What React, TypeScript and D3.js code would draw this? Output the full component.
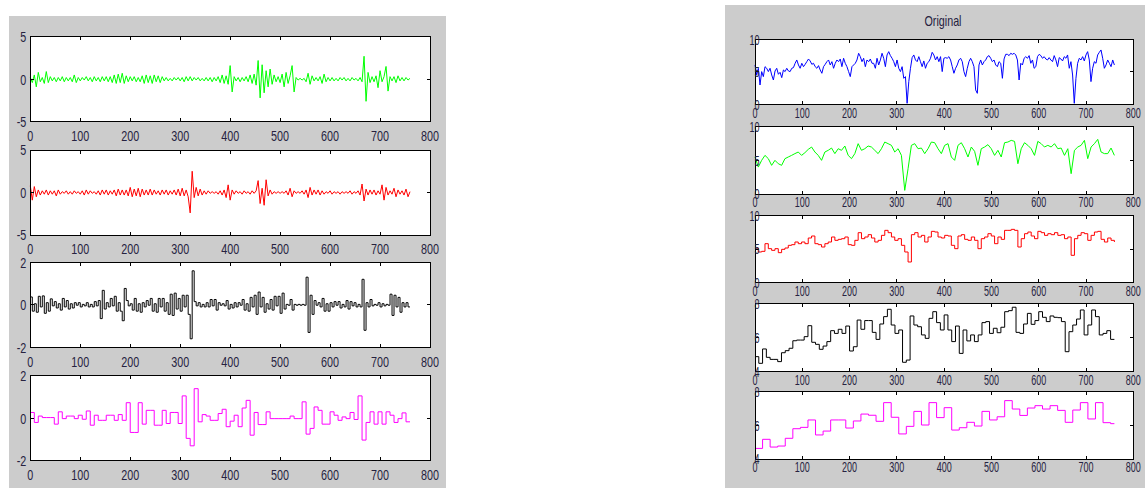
import React from 'react';
import * as d3 from 'd3';

// number of samples in every signal
const SAMPLES = 760;

const xTicks = [0, 100, 200, 300, 400, 500, 600, 700, 800];

// ---- left figure: detail signals ----
const detail1 = [
  0.2, -0.4, 0.5, -0.9, 0.8, -0.3, 0.2, -0.5, 0.9, -0.4,
  0.3, -0.2, 0.2, -0.3, 0.2, -0.2, 0.3, -0.3, 0.2, -0.2,
  0.2, -0.3, 0.5, -0.4, 0.2, -0.2, 0.2, -0.1, 0.3, -0.2,
  0.2, -0.3, 0.3, -0.2, 0.2, -0.3, 0.3, -0.2, 0.3, -0.3,
  0.3, -0.4, 0.5, -0.5, 0.6, -0.4, 0.7, -0.5, 0.4, -0.3,
  0.3, -0.2, 0.3, -0.3, 0.2, -0.3, 0.4, -0.5, 0.5, -0.4,
  0.4, -0.5, 0.5, -0.3, 0.4, -0.4, 0.3, -0.2, 0.2, -0.2,
  0.1, -0.2, 0.2, -0.1, 0.2, -0.2, 0.2, -0.3, 0.3, -0.2,
  0.3, -0.2, 0.2, -0.1, 0.2, -0.2, 0.1, -0.2, 0.2, -0.2,
  0.2, -0.3, 0.2, -0.2, 0.3, -0.4, 0.5, -0.5, 0.4, -0.6,
  1.6, -1.5, 0.3, -0.2, 0.2, -0.3, 0.2, -0.2, 0.3, -0.3,
  0.5, -0.5, 0.6, -0.7, 2.2, -2.2, 1.7, -1.6, 1.0, -0.9,
  1.2, -0.6, 0.5, -0.3, 0.3, -0.4, 0.6, -0.9, 0.8, -0.5,
  0.4, 1.6, -1.5, 0.2, -0.1, 0.1, -0.1, 0.1, -0.3, 0.7,
  -0.6, 0.4, -0.2, 0.2, -0.2, 0.3, -0.5, 0.6, -0.3, 0.2,
  -0.2, 0.2, -0.2, 0.1, -0.2, 0.2, -0.1, 0.2, -0.2, 0.1,
  -0.2, 0.2, -0.1, 0.1, -0.2, 0.2, -0.3, 2.7, -2.6, 0.8,
  -0.4, 0.3, -0.3, 0.4, -1.0, 1.0, -0.3, 0.3, 1.5, -1.4,
  0.3, -0.2, 0.3, -0.4, 0.4, -0.2, 0.2, -0.2, 0.2, -0.1,
  0.1,
];

const detail2 = [
  0.8, -0.9, 0.7, -0.5, 0.3, -0.3, 0.2, -0.2, 0.3, -0.3,
  0.2, -0.2, 0.2, -0.4, 0.3, -0.2, 0.1, -0.1, 0.2, -0.2,
  0.1, -0.2, 0.2, -0.1, 0.1, -0.2, 0.2, -0.3, 0.3, -0.2,
  0.2, -0.1, 0.1, -0.2, 0.2, -0.3, 0.3, -0.2, 0.3, -0.3,
  0.2, -0.2, 0.3, -0.4, 0.4, -0.3, 0.3, -0.3, 0.3, -0.4,
  0.6, -0.5, 0.4, -0.4, 0.5, -0.5, 0.4, -0.3, 0.3, -0.3,
  0.4, -0.3, 0.3, -0.2, 0.2, -0.3, 0.3, -0.2, 0.3, -0.3,
  0.2, -0.2, 0.3, -0.3, 0.4, -0.4, 0.5, -0.4, 0.3, -0.5,
  -2.4, 2.5, -0.6, 0.6, -0.4, 0.4, -0.3, 0.2, -0.2, 0.2,
  -0.1, 0.1, -0.1, 0.1, -0.2, 0.2, -0.3, 0.3, -0.6, 0.9,
  -0.9, 0.3, -0.2, 0.2, -0.1, 0.1, -0.2, 0.2, -0.1, 0.1,
  -0.2, 0.2, -0.1, 0.2, 1.4, -1.3, 0.5, -1.5, 1.5, -0.4,
  0.3, -0.2, 0.1, -0.1, 0.1, -0.1, 0.1, -0.1, 0.2, -0.3,
  0.5, -0.5, 0.2, -0.1, 0.1, -0.1, 0.2, -0.2, 0.3, -0.6,
  0.6, -0.3, 0.3, -0.2, 0.3, -0.3, 0.2, -0.2, 0.1, -0.1,
  0.2, -0.2, 0.1, -0.1, 0.1, -0.2, 0.1, -0.1, 0.1, -0.1,
  0.2, -0.2, 0.1, -0.1, 0.2, -0.3, 1.0, -1.0, 0.4, -0.3,
  0.3, -0.2, 0.3, -0.3, 0.2, -0.2, 0.9, -0.9, 0.6, -0.3,
  0.2, -0.2, 0.5, -0.5, 0.3, -0.2, 0.2, -0.3, 0.4, -0.5,
  0.1,
];

// held for 4 samples each
const detail3 = [
  0.37, -0.3, 0.05, -0.35, 0.4, -0.1, 0.42, -0.4, 0.1, -0.3,
  0.28, -0.05, 0.15, -0.15, 0.05, -0.25, 0.3, -0.1, 0.2, -0.2,
  0.05, -0.15, 0.1, -0.02, 0.1, -0.1, 0.02, -0.05, 0.1, -0.1,
  0.02, -0.1, 0.15, -0.05, 0.2, -0.65, 0.68, -0.2, 0.1, -0.1,
  0.3, -0.05, 0.4, -0.3, 0.1, -0.3, -0.75, 0.77, 0.2, -0.05,
  0.05, -0.25, 0.3, -0.3, 0.05, -0.35, 0.1, -0.1, 0.2, -0.02,
  0.3, -0.3, 0.05, -0.35, 0.3, -0.1, 0.3, -0.3, 0.1, -0.45,
  0.5, -0.5, 0.55, -0.2, 0.3, -0.3, 0.45, -0.1, 0.45, -0.45,
  -1.6, 1.6, 0.15, -0.05, 0.1, -0.1, 0.02, -0.1, 0.1, -0.1,
  0.25, -0.05, 0.25, -0.25, 0.1, -0.02, 0.05, -0.05, 0.2, -0.2,
  0.02, -0.15, 0.1, -0.1, 0.1, -0.02, 0.25, -0.25, 0.05, -0.3,
  0.35, -0.1, 0.45, -0.45, 0.6, -0.1, 0.35, -0.35, 0.05, -0.2,
  0.25, -0.25, 0.4, -0.05, 0.4, -0.4, 0.55, -0.2, 0.02, -0.02,
  0.25, -0.25, 0.02, -0.02, 0.02, -0.02, 0.02, -0.02, 1.3, -1.3,
  0.45, -0.45, 0.2, -0.02, 0.1, -0.1, 0.3, -0.3, 0.05, -0.3,
  0.1, -0.1, 0.15, -0.02, 0.15, -0.15, 0.02, -0.1, 0.2, -0.2,
  0.15, -0.05, 0.1, -0.1, 0.02, -0.1, 1.2, -1.2, 0.1, -0.1,
  0.25, -0.05, 0.02, -0.02, 0.1, -0.1, 0.05, -0.05, 0.02, -0.02,
  0.5, -0.5, 0.45, -0.1, 0.35, -0.35, 0.1, -0.1, 0.1, -0.1,
];

// held for 8 samples each
const detail4 = [
  0.27, -0.2, 0.1, 0.03, 0.03, 0.03, -0.28, 0.3, -0.02, 0.1,
  0.1, -0.02, 0.14, -0.05, 0.34, -0.33, 0.14, -0.1, -0.1, 0.14,
  0.14, -0.1, 0.17, -0.1, 0.73, -0.67, -0.67, 0.73, -0.28, 0.37,
  0.37, -0.33, -0.33, 0.37, -0.25, 0.27, 0.27, -0.25, 1.05, -0.95,
  -1.3, 1.39, -0.17, 0.17, 0.1, -0.1, -0.1, 0.22, 0.42, -0.4,
  -0.14, 0.14, -0.4, 0.48, 0.84, -0.8, 0.27, -0.3, -0.3, 0.3,
  -0.02, -0.02, -0.02, -0.02, -0.02, 0.1, -0.02, -0.02, 0.77, -0.75,
  -0.48, 0.53, 0.37, -0.28, -0.28, 0.3, 0.14, -0.1, 0.06, -0.02,
  0.27, -0.06, 1.05, -1.03, -0.2, 0.3, -0.28, 0.3, -0.28, 0.3,
  0.14, -0.2, -0.02, 0.25, -0.17,
];

// ---- right figure: original and approximations ----
const original = [
  6.05, 4.51, 5.54, 2.97, 5.03, 4.26, 5.79, 5.54, 5.03, 5.54,
  4.51, 3.74, 5.13, 5.54, 4.62, 4.92, 4.1, 5.28, 5.03, 5.54,
  5.13, 5.03, 5.54, 5.64, 6.31, 6.82, 6.05, 5.54, 6.31, 5.79,
  6.15, 6.56, 6.97, 6.67, 6.15, 6.31, 5.79, 5.54, 5.95, 5.28,
  4.77, 5.79, 6.15, 6.56, 6.82, 6.05, 6.56, 5.54, 6.31, 6.82,
  6.56, 6.97, 5.79, 7.08, 6.31, 5.79, 5.03, 4.26, 5.79, 6.05,
  6.31, 6.82, 7.85, 7.33, 6.56, 7.08, 5.79, 6.82, 6.56, 6.97,
  6.31, 6.31, 5.54, 7.08, 6.05, 6.82, 7.85, 7.08, 5.79, 7.59,
  8.1, 7.49, 7.08, 6.56, 5.79, 6.82, 5.54, 5.03, 5.79, 4.0,
  4.26, 0.15, 3.49, 5.54, 7.18, 7.59, 6.82, 6.56, 7.33, 6.56,
  5.79, 6.67, 5.54, 6.31, 6.56, 7.08, 8.0, 7.59, 6.82, 7.33,
  6.56, 7.33, 5.03, 7.08, 7.18,
  7.08, 7.33, 6.82, 5.79, 4.77, 5.54, 6.05, 6.82, 7.08, 6.56,
  5.03, 4.26, 5.54, 6.56, 7.08, 6.56, 5.79, 2.21, 1.69, 6.05,
  6.82, 6.05, 6.56, 6.82, 7.33, 7.49, 7.08, 6.56, 6.82, 6.05,
  5.79, 6.56, 6.31, 4.0, 6.97, 7.69, 7.69, 7.49, 7.85, 7.69,
  7.85, 7.59, 6.82, 3.74, 6.31, 6.05, 7.08, 7.33, 7.08, 7.49,
  6.31, 6.82, 5.54, 5.79, 7.33, 7.69, 7.49, 7.08, 7.33, 6.97,
  6.82, 7.18, 6.82, 6.56, 7.49, 6.82, 5.79, 7.18, 6.97, 6.67,
  7.33, 7.08, 7.59, 5.54, 6.56, 4.51, 0.15, 4.0, 6.31, 7.08,
  6.82, 7.33, 6.67, 7.59, 8.1, 6.82, 3.49, 5.54, 6.56, 6.31,
  7.59, 8.0, 8.36, 7.08, 5.54, 6.05, 6.82, 6.31, 5.79, 6.82,
  6.05,
];

const approx1 = [
  5.5, 4.0, 5.0, 5.74, 5.25, 4.26, 5.0, 4.5, 4.26, 5.25,
  5.5, 5.74, 6.0, 6.24, 5.74, 6.14, 6.63, 6.98, 6.24, 5.74,
  5.0, 6.24, 6.49, 6.83, 6.0, 6.73, 6.49, 7.13, 5.74, 5.25,
  6.0, 7.48, 6.49, 6.73, 7.13, 6.98, 6.49, 6.0, 6.73, 7.72,
  7.48, 7.23, 6.24, 6.73, 5.74, 0.54, 3.76, 7.23, 7.48, 6.73,
  6.83, 6.0, 6.73, 7.72, 7.62, 6.73, 6.0, 7.23, 7.48, 5.5,
  5.0, 7.23, 7.62, 6.73, 5.5, 6.98, 6.34, 4.26, 6.73, 6.98,
  7.33, 6.73, 5.74, 6.49, 5.5, 7.62, 7.72, 7.97, 7.82, 4.5,
  6.73, 7.62, 7.23, 6.73, 5.74, 7.82, 7.48, 6.98, 7.23, 6.98,
  7.48, 6.73, 6.83, 5.74, 6.73, 3.02, 6.49, 6.98, 7.23, 7.97,
  5.25, 6.98, 7.48, 8.12, 6.24, 6.0, 6.0, 6.83, 5.74,
];

const approx2 = [
  5.15, 4.55, 4.65, 5.8, 5.05, 4.8, 5.05, 4.45, 4.95, 5.15,
  5.55, 5.65, 6.05, 5.8, 6.05, 5.8, 6.65, 6.95, 5.8, 5.65,
  5.3, 5.8, 6.05, 6.8, 6.3, 6.45, 6.55, 6.8, 5.65, 5.55,
  6.3, 7.45, 6.55, 6.8, 7.15, 6.65, 6.05, 6.3, 7.05, 7.8,
  7.45, 6.8, 6.3, 6.55, 5.55, 4.55, 3.05, 7.15, 7.45, 6.8,
  7.05, 6.05, 6.8, 7.65, 7.55, 6.8, 6.65, 7.05, 6.95, 5.55,
  5.05, 6.95, 7.15, 6.45, 6.3, 6.8, 6.3, 5.05, 6.55, 6.8,
  7.3, 6.95, 5.8, 6.8, 6.45, 7.8, 7.8, 7.95, 7.8, 5.3,
  6.55, 7.3, 7.55, 6.95, 6.55, 7.65, 7.45, 7.05, 7.3, 7.15,
  7.45, 7.05, 7.15, 6.55, 6.8, 4.05, 6.55, 7.05, 7.45, 7.3,
  6.3, 7.05, 7.55, 7.65, 6.45, 6.05, 6.65, 6.3, 6.05,
];

// held for 8 samples each
const approx3 = [
  4.88, 4.49, 5.33, 4.84, 4.72, 4.72, 4.59, 5.11, 5.23, 5.37,
  5.81, 5.85, 5.85, 6.05, 6.69, 5.72, 5.6, 5.31, 5.5, 5.76,
  6.4, 6.24, 6.48, 6.24, 6.67, 5.21, 5.46, 7.02, 6.48, 6.99,
  6.99, 6.3, 5.89, 6.79, 7.22, 7.65, 6.73, 6.24, 6.44, 4.55,
  4.68, 7.26, 6.73, 6.63, 6.15, 5.95, 7.12, 7.51, 6.87, 6.44,
  7.32, 6.44, 5.76, 6.67, 5.07, 6.44, 5.8, 6.15, 5.76, 6.15,
  6.87, 6.93, 6.24, 6.54, 6.28, 6.6, 7.51, 7.57, 7.77, 6.3,
  6.24, 6.79, 7.41, 6.77, 6.99, 7.51, 7.18, 6.93, 7.26, 7.18,
  7.16, 6.93, 5.17, 6.34, 6.73, 7.08, 7.61, 6.15, 6.73, 7.61,
  7.22, 6.15, 6.24, 6.4, 5.89,
];

// held for 16 samples each
const approx4 = [
  4.63, 5.17, 4.71, 4.77, 5.23, 5.8, 5.88, 6.32, 5.43, 5.66,
  6.32, 6.32, 5.84, 6.26, 6.67, 6.6, 6.24, 7.35, 6.48, 5.49,
  5.94, 6.83, 6.02, 7.35, 6.46, 7.05, 5.72, 5.86, 6.18, 5.96,
  6.83, 6.32, 6.51, 7.47, 6.97, 6.59, 7.03, 7.17, 6.97, 7.17,
  6.89, 6.18, 6.91, 7.35, 6.38, 7.35, 6.16, 6.1,
];

const FONT = '"Liberation Sans", Arial, Helvetica, sans-serif';
const TEXT = '#262240';

type PanelProps = {
  left: number; top: number; width: number; height: number;
  yDomain: [number, number];
  data: number[];
  step: number | null; // samples per held value, null = readings spread over all samples
  curve: d3.CurveFactory;
  color: string;
  digitW: number;
  yLabelX: number;
  xLabelGap: number;
};

function labelWidth(s: string, digitW: number) {
  return [...s].reduce((a, c) => a + (c === '-' ? digitW * 0.6 : digitW), 0);
}

function Panel(p: PanelProps) {
  const x = d3.scaleLinear().domain([0, 800]).range([p.left, p.left + p.width]);
  const y = d3.scaleLinear().domain(p.yDomain).range([p.top + p.height, p.top]);
  const yTicks = y.ticks(2);
  const tl = 3.5;

  let pts: [number, number][];
  if (p.step === null) {
    const s = SAMPLES / (p.data.length - 1);
    pts = p.data.map((v, i) => [i * s, v]);
  } else {
    pts = p.data.map((v, i) => [i * p.step!, v]);
    pts.push([SAMPLES, p.data[p.data.length - 1]]);
  }
  const line = d3.line<[number, number]>()
    .x(d => x(d[0]))
    .y(d => y(d[1]))
    .curve(p.curve);

  const bottom = p.top + p.height;
  const right = p.left + p.width;

  return (
    <g>
      <rect x={p.left} y={p.top} width={p.width} height={p.height} fill="#fff" />
      <path d={line(pts) || ''} fill="none" stroke={p.color} strokeWidth={1} />
      <g stroke="#000" strokeWidth={1} shapeRendering="crispEdges" fill="none">
        <rect x={p.left} y={p.top} width={p.width} height={p.height} />
        {xTicks.map(t => (
          <g key={'x' + t}>
            <line x1={x(t)} x2={x(t)} y1={bottom} y2={bottom - tl} />
            <line x1={x(t)} x2={x(t)} y1={p.top} y2={p.top + tl} />
          </g>
        ))}
        {yTicks.map(t => (
          <g key={'y' + t}>
            <line x1={p.left} x2={p.left + tl} y1={y(t)} y2={y(t)} />
            <line x1={right} x2={right - tl} y1={y(t)} y2={y(t)} />
          </g>
        ))}
      </g>
      <g fontFamily={FONT} fontSize={15} fill={TEXT}>
        {xTicks.map(t => (
          <text key={'xl' + t} x={x(t)} y={bottom + p.xLabelGap} textAnchor="middle"
            textLength={labelWidth(String(t), p.digitW)} lengthAdjust="spacingAndGlyphs">
            {t}
          </text>
        ))}
        {yTicks.map(t => (
          <text key={'yl' + t} x={p.yLabelX} y={y(t) + 5.3} textAnchor="end"
            textLength={labelWidth(String(t), p.digitW)} lengthAdjust="spacingAndGlyphs">
            {t}
          </text>
        ))}
      </g>
    </g>
  );
}

const leftTops = [36.7, 150, 262.3, 375.7];
const leftPanels = [
  { data: detail1, step: null, curve: d3.curveLinear, color: '#00ff00', yDomain: [-5, 5] as [number, number] },
  { data: detail2, step: null, curve: d3.curveLinear, color: '#ff0000', yDomain: [-5, 5] as [number, number] },
  { data: detail3, step: 4, curve: d3.curveStepAfter, color: '#000000', yDomain: [-2, 2] as [number, number] },
  { data: detail4, step: 8, curve: d3.curveStepAfter, color: '#ff00ff', yDomain: [-2, 2] as [number, number] },
];

const rightBoxes = [[39.3, 104.3], [126.7, 194], [215.7, 282.3], [303.3, 371.7], [391.7, 459]];
const rightPanels = [
  { data: original, step: null, curve: d3.curveLinear, color: '#0000ff', yDomain: [0, 10] as [number, number] },
  { data: approx1, step: null, curve: d3.curveLinear, color: '#00ff00', yDomain: [0, 10] as [number, number] },
  { data: approx2, step: null, curve: d3.curveStepAfter, color: '#ff0000', yDomain: [0, 10] as [number, number] },
  { data: approx3, step: 8, curve: d3.curveStepAfter, color: '#000000', yDomain: [4, 8] as [number, number] },
  { data: approx4, step: 16, curve: d3.curveStepAfter, color: '#ff00ff', yDomain: [4, 8] as [number, number] },
];

export default function App() {
  return (
    <div style={{ position: 'absolute', left: 0, top: 0 }}>
      <svg width={1145} height={488} style={{ display: 'block', background: '#fff' }}>
        {/* left figure */}
        <rect x={9} y={16} width={437} height={472} fill="#cccccc" />
        {leftPanels.map((lp, i) => (
          <Panel key={'l' + i} left={30.3} top={leftTops[i]} width={399.7} height={85}
            yDomain={lp.yDomain} data={lp.data} step={lp.step} curve={lp.curve} color={lp.color}
            digitW={6} yLabelX={26.3} xLabelGap={19.3} />
        ))}

        {/* right figure */}
        <rect x={725} y={5} width={420} height={483} fill="#cccccc" />
        <text x={943} y={25.7} textAnchor="middle" fontFamily={FONT} fontSize={15} fill={TEXT}
          textLength={37} lengthAdjust="spacingAndGlyphs">Original</text>
        {rightPanels.map((rp, i) => (
          <Panel key={'r' + i} left={755} top={rightBoxes[i][0]} width={378.3}
            height={rightBoxes[i][1] - rightBoxes[i][0]}
            yDomain={rp.yDomain} data={rp.data} step={rp.step} curve={rp.curve} color={rp.color}
            digitW={5} yLabelX={759.5} xLabelGap={13.2} />
        ))}
      </svg>
    </div>
  );
}
